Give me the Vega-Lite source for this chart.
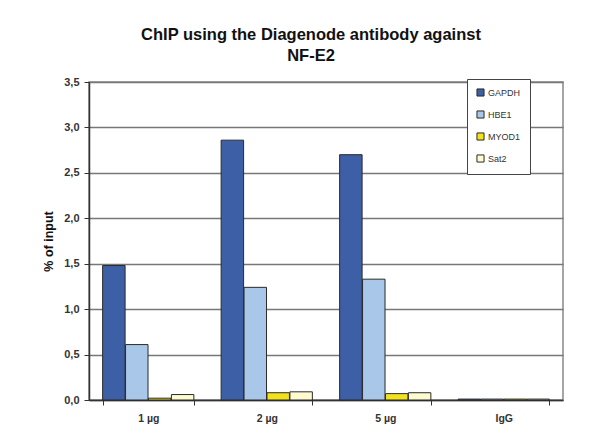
{
  "$schema": "https://vega.github.io/schema/vega-lite/v6.json",
  "width": 474,
  "height": 318,
  "autosize": {"type": "none"},
  "padding": {"left": 89, "top": 82, "right": 34, "bottom": 48},
  "background": "white",
  "title": {
    "text": ["ChIP using the Diagenode antibody against", "NF-E2"],
    "font": "Liberation Sans",
    "fontSize": 16.5,
    "fontWeight": "bold",
    "color": "#111",
    "lineHeight": 21,
    "anchor": "middle",
    "frame": "group",
    "dx": -15,
    "offset": 12
  },
  "data": {
    "values": [
      {"amount": "1 µg", "target": "GAPDH", "value": 1.48},
      {"amount": "1 µg", "target": "HBE1", "value": 0.61},
      {"amount": "1 µg", "target": "MYOD1", "value": 0.02},
      {"amount": "1 µg", "target": "Sat2", "value": 0.06},
      {"amount": "2 µg", "target": "GAPDH", "value": 2.86},
      {"amount": "2 µg", "target": "HBE1", "value": 1.24},
      {"amount": "2 µg", "target": "MYOD1", "value": 0.08},
      {"amount": "2 µg", "target": "Sat2", "value": 0.09},
      {"amount": "5 µg", "target": "GAPDH", "value": 2.7},
      {"amount": "5 µg", "target": "HBE1", "value": 1.33},
      {"amount": "5 µg", "target": "MYOD1", "value": 0.07},
      {"amount": "5 µg", "target": "Sat2", "value": 0.08},
      {"amount": "IgG", "target": "GAPDH", "value": 0.01},
      {"amount": "IgG", "target": "HBE1", "value": 0.01},
      {"amount": "IgG", "target": "MYOD1", "value": 0.01},
      {"amount": "IgG", "target": "Sat2", "value": 0.01}
    ]
  },
  "mark": {"type": "bar", "stroke": "#2a2a2a", "strokeWidth": 1},
  "encoding": {
    "x": {
      "field": "amount",
      "type": "nominal",
      "sort": ["1 µg", "2 µg", "5 µg", "IgG"],
      "scale": {"paddingInner": 0.23, "paddingOuter": 0.115},
      "axis": {
        "title": null,
        "labelAngle": 0,
        "labelFont": "Liberation Sans",
        "labelFontSize": 10.5,
        "labelFontWeight": "bold",
        "labelColor": "#333",
        "labelPadding": 8,
        "tickBand": "extent",
        "tickSize": 5,
        "tickColor": "#333",
        "domainColor": "#333",
        "domainWidth": 1.5
      }
    },
    "xOffset": {
      "field": "target",
      "type": "nominal",
      "sort": ["GAPDH", "HBE1", "MYOD1", "Sat2"],
      "scale": {"paddingInner": 0.02}
    },
    "y": {
      "field": "value",
      "type": "quantitative",
      "scale": {"domain": [0, 3.5], "nice": false},
      "axis": {
        "title": "% of input",
        "titleFont": "Liberation Sans",
        "titleFontSize": 12.5,
        "titleFontWeight": "bold",
        "titleColor": "#111",
        "titlePadding": 8,
        "values": [0, 0.5, 1, 1.5, 2, 2.5, 3, 3.5],
        "labelExpr": "replace(format(datum.value, '.1f'), '.', ',')",
        "labelFont": "Liberation Sans",
        "labelFontSize": 11,
        "labelFontWeight": "bold",
        "labelColor": "#333",
        "labelPadding": 5,
        "tickSize": 5,
        "tickColor": "#333",
        "domainColor": "#333",
        "domainWidth": 1.5,
        "grid": true,
        "gridColor": "#777",
        "gridWidth": 1.5
      }
    },
    "color": {
      "field": "target",
      "type": "nominal",
      "sort": ["GAPDH", "HBE1", "MYOD1", "Sat2"],
      "scale": {
        "domain": ["GAPDH", "HBE1", "MYOD1", "Sat2"],
        "range": ["#3d5fa6", "#a9c7e8", "#f2e21e", "#fdfbcf"]
      },
      "legend": {
        "title": null,
        "orient": "none",
        "legendX": 378,
        "legendY": -3,
        "symbolType": "square",
        "symbolSize": 50,
        "symbolStrokeColor": "#2a2a2a",
        "symbolStrokeWidth": 1,
        "labelFont": "Liberation Sans",
        "labelFontSize": 9,
        "labelColor": "#333",
        "labelOffset": 3,
        "rowPadding": 9,
        "padding": 9,
        "fillColor": "white",
        "strokeColor": "#444"
      }
    }
  },
  "config": {
    "view": {"stroke": "#888", "strokeWidth": 1.5}
  }
}
